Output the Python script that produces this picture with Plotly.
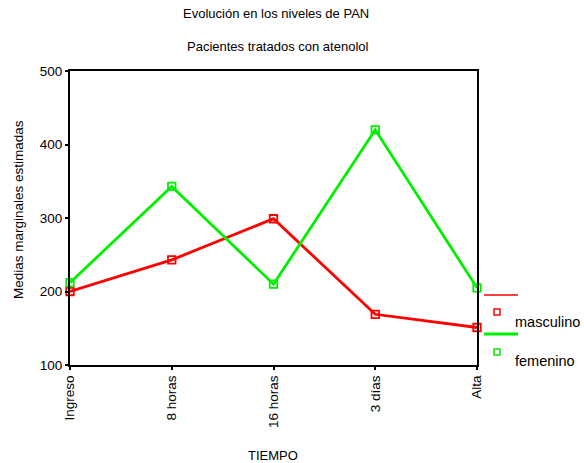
import plotly.graph_objects as go

categories = ["Ingreso", "8 horas", "16 horas", "3 días", "Alta"]
masculino = [200, 243, 299, 169, 151]
femenino = [212, 343, 210, 420, 205]
y_ticks = [100, 200, 300, 400, 500]

RED = "#FF0000"
GREEN = "#00F000"
FONT = "Liberation Sans, Arial, sans-serif"

L, R, T, B = 70, 477, 71, 365
W, H = R - L, B - T

fig = go.Figure()
for name, vals, col in [("masculino", masculino, RED), ("femenino", femenino, GREEN)]:
    fig.add_trace(go.Scatter(
        x=categories, y=vals, mode="lines+markers", name=name,
        line=dict(color=col, width=2.8),
        marker=dict(symbol="square-open", size=7.5, color=col, line=dict(width=1.8, color=col)),
        cliponaxis=False, showlegend=False,
    ))

fig.update_layout(
    width=584, height=463,
    margin=dict(l=L, r=584 - R, t=T, b=463 - B, autoexpand=False),
    paper_bgcolor="white", plot_bgcolor="white",
    font=dict(family=FONT, color="black", size=13),
    showlegend=False,
)
fig.update_xaxes(
    type="category", range=[0, 4], showgrid=False, zeroline=False, automargin=False,
    showline=True, linecolor="black", linewidth=2, mirror=True,
    ticks="outside", ticklen=3, tickwidth=2, tickcolor="black",
    tickangle=-90, tickfont=dict(size=13.5),
)
fig.update_yaxes(
    range=[100, 500], tickvals=y_ticks, showgrid=False, zeroline=False, automargin=False,
    showline=True, linecolor="black", linewidth=2, mirror=True,
    ticks="outside", ticklen=3, tickwidth=2, tickcolor="black",
    tickfont=dict(size=13.5),
)

def px_x(x):
    return (x - L) / W
def px_y(y):
    return (B - y) / H

def text_at(s, x, y, size=13, angle=0, xanchor="center"):
    fig.add_annotation(text=s, xref="paper", yref="paper", x=px_x(x), y=px_y(y),
                       showarrow=False, font=dict(size=size), textangle=angle,
                       xanchor=xanchor, yanchor="middle")

# titles
text_at("Evolución en los niveles de PAN", 276, 14)
text_at("Pacientes tratados con atenolol", 278, 46)
text_at("TIEMPO", 273, 455)
text_at("Medias marginales estimadas", 18, 210, size=13.5, angle=-90)

# custom legend
legend_items = [("masculino", RED, 295, 312, 322, 1.5), ("femenino", GREEN, 334, 352, 361, 3)]
for name, col, ly, my, ty, lw in legend_items:
    fig.add_shape(type="line", xref="paper", yref="paper",
                  x0=px_x(484), x1=px_x(518), y0=px_y(ly), y1=px_y(ly),
                  line=dict(color=col, width=lw))
    fig.add_shape(type="rect", xref="paper", yref="paper",
                  x0=px_x(494), x1=px_x(500), y0=px_y(my + 3), y1=px_y(my - 3),
                  line=dict(color=col, width=1.5))
    text_at(name, 513, ty, size=14.5, xanchor="left")

fig.write_html("out.html", config={"displayModeBar": False},
               post_script="document.body.style.margin='0';document.body.style.overflow='hidden';")
